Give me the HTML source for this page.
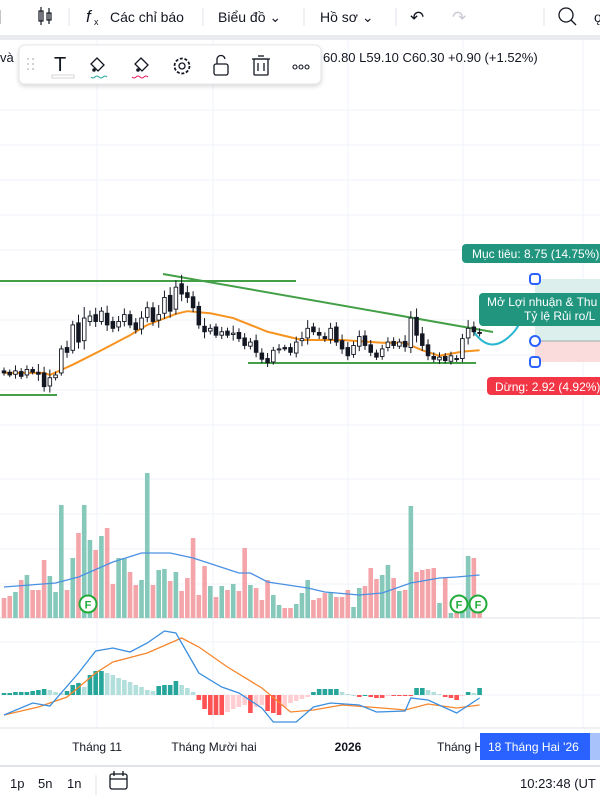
<!DOCTYPE html>
<html><head><meta charset="utf-8"><style>
html,body{margin:0;padding:0;background:#fff;width:600px;height:800px;overflow:hidden;font-family:"Liberation Sans","Noto Sans CJK SC",sans-serif}
svg{display:block}
text{font-family:"Liberation Sans","Noto Sans CJK SC",sans-serif}
</style></head><body>
<svg id="c" width="600" height="800" viewBox="0 0 600 800">
<!-- grid -->
<g id="grid" stroke="#f0f3fa" stroke-width="1">
<line x1="97" y1="40" x2="97" y2="728"/><line x1="213" y1="40" x2="213" y2="728"/><line x1="348" y1="40" x2="348" y2="728"/><line x1="463" y1="40" x2="463" y2="728"/><line x1="583" y1="40" x2="583" y2="728"/>
<line x1="0" y1="110" x2="600" y2="110"/><line x1="0" y1="145" x2="600" y2="145"/><line x1="0" y1="180" x2="600" y2="180"/><line x1="0" y1="215" x2="600" y2="215"/><line x1="0" y1="250" x2="600" y2="250"/><line x1="0" y1="285" x2="600" y2="285"/><line x1="0" y1="320" x2="600" y2="320"/><line x1="0" y1="355" x2="600" y2="355"/><line x1="0" y1="390" x2="600" y2="390"/><line x1="0" y1="425" x2="600" y2="425"/><line x1="0" y1="479" x2="600" y2="479"/><line x1="0" y1="514" x2="600" y2="514"/><line x1="0" y1="549" x2="600" y2="549"/><line x1="0" y1="584" x2="600" y2="584"/><line x1="0" y1="642" x2="600" y2="642"/><line x1="0" y1="695" x2="600" y2="695"/>
</g>
<line x1="0" y1="618" x2="600" y2="618" stroke="#e0e3eb"/>
<line x1="0" y1="728" x2="600" y2="728" stroke="#e0e3eb"/>
<!-- risk reward -->
<g>
<rect x="535" y="279" width="65" height="62" fill="#dcefec"/>
<rect x="535" y="341" width="65" height="21" fill="#fadcdc"/>
<line x1="535" y1="341" x2="600" y2="341" stroke="#9aa" stroke-width="1"/>
<path d="M474,332 Q488,352 505,340 Q516,332 520,322" fill="none" stroke="#29b6d0" stroke-width="2"/>
<rect x="462" y="244" width="145" height="19" rx="4" fill="#22957f"/>
<text x="472" y="258" font-size="12" fill="#fff">Mục tiêu: 8.75 (14.75%)</text>
<rect x="479" y="293" width="130" height="33" rx="4" fill="#22957f"/>
<text x="487" y="306" font-size="12" fill="#fff">Mở Lợi nhuận &amp; Thu</text>
<text x="524" y="320" font-size="12" fill="#fff">Tỷ lệ Rủi ro/L</text>
<rect x="487" y="377" width="120" height="18" rx="4" fill="#f23645"/>
<text x="495" y="391" font-size="12" fill="#fff">Dừng: 2.92 (4.92%)</text>
<rect x="530" y="274" width="10" height="10" rx="3" fill="#fff" stroke="#2962ff" stroke-width="2"/>
<circle cx="535" cy="341" r="5" fill="#fff" stroke="#2962ff" stroke-width="2"/>
<rect x="530" y="357" width="10" height="10" rx="3" fill="#fff" stroke="#2962ff" stroke-width="2"/>
</g>
<!-- drawings -->
<g stroke="#43a047" stroke-width="2">
<line x1="0" y1="281" x2="296" y2="281"/>
<line x1="163" y1="274" x2="493" y2="332"/>
<line x1="248" y1="363" x2="476" y2="363"/>
<line x1="0" y1="395" x2="57" y2="395"/>
</g>
<g id="vol"></g>
<g id="candles"></g>
<g id="macd"></g>
<!-- F markers -->
<g>
<circle cx="88" cy="604" r="8.5" fill="#fff" stroke="#22ab3b" stroke-width="2"/><text x="88" y="608.5" font-size="11" fill="#22ab3b" text-anchor="middle" font-weight="bold">F</text>
<circle cx="459" cy="604" r="8.5" fill="#fff" stroke="#22ab3b" stroke-width="2"/><text x="459" y="608.5" font-size="11" fill="#22ab3b" text-anchor="middle" font-weight="bold">F</text>
<circle cx="478" cy="604" r="8.5" fill="#fff" stroke="#22ab3b" stroke-width="2"/><text x="478" y="608.5" font-size="11" fill="#22ab3b" text-anchor="middle" font-weight="bold">F</text>
</g>
<!-- time axis -->
<g font-size="12" fill="#131722">
<text x="97" y="751" text-anchor="middle">Tháng 11</text>
<text x="214" y="751" text-anchor="middle">Tháng Mười hai</text>
<text x="348" y="751" text-anchor="middle" font-weight="bold">2026</text>
<text x="437" y="751">Tháng H</text>
<rect x="590" y="733" width="10" height="27" fill="#a8c2fb"/>
<rect x="480" y="733" width="110" height="27" fill="#2962ff"/>
<text x="488" y="751" fill="#fff">18 Tháng Hai '26</text>
</g>
<line x1="0" y1="766" x2="600" y2="766" stroke="#e0e3eb" stroke-width="2"/>
<!-- bottom bar -->
<g font-size="13" fill="#131722">
<text x="10" y="788">1p</text>
<text x="38" y="788">5n</text>
<text x="67" y="788">1n</text>
<line x1="96" y1="775" x2="96" y2="795" stroke="#e0e3eb"/>
<g stroke="#131722" fill="none" stroke-width="1.3"><rect x="110" y="774" width="17" height="15" rx="2"/><line x1="110" y1="779" x2="127" y2="779"/><line x1="114" y1="771" x2="114" y2="776"/><line x1="123" y1="771" x2="123" y2="776"/></g>
<text x="520" y="788">10:23:48 (UT</text>
</g>
<!-- legend -->
<text x="0" y="62" font-size="13" fill="#131722">và</text>
<text x="323" y="62" font-size="13" fill="#131722">60.80  L59.10  C60.30  +0.90 (+1.52%)</text>
<!-- top toolbar -->
<rect x="0" y="0" width="600" height="35" fill="#fff"/>
<rect x="0" y="35" width="600" height="5" fill="#e9ebf0"/>
<g font-size="14" fill="#131722">
<line x1="0" y1="10" x2="0" y2="24" stroke="#888"/>
<g stroke="#131722" fill="none" stroke-width="1.2"><rect x="39" y="11" width="4" height="10"/><line x1="41" y1="7" x2="41" y2="25"/><rect x="47" y="13" width="4" height="7"/><line x1="49" y1="8" x2="49" y2="24"/></g>
<line x1="69" y1="8" x2="69" y2="26" stroke="#e0e3eb"/>
<text x="86" y="22" font-style="italic" font-family="Liberation Serif" font-size="17">f</text><text x="94" y="25" font-size="9">x</text>
<text x="110" y="22">Các chỉ báo</text>
<line x1="203" y1="8" x2="203" y2="26" stroke="#e0e3eb"/>
<text x="218" y="22">Biểu đồ ⌄</text>
<line x1="304" y1="8" x2="304" y2="26" stroke="#e0e3eb"/>
<text x="320" y="22">Hồ sơ ⌄</text>
<line x1="396" y1="8" x2="396" y2="26" stroke="#e0e3eb"/>
<text x="410" y="23" font-size="17">↶</text>
<text x="452" y="23" font-size="17" fill="#c8cbd3">↷</text>
<line x1="544" y1="8" x2="544" y2="26" stroke="#e0e3eb"/>
<g stroke="#131722" fill="none" stroke-width="1.3"><circle cx="566" cy="15" r="7"/><line x1="571" y1="20" x2="576" y2="25"/></g>
<text x="594" y="22" font-size="14">ǫ</text>
</g>
<!-- floating drawing toolbar -->
<g>
<rect x="19" y="45" width="302" height="39" rx="6" fill="#fff" stroke="#e4e6eb" filter="url(#sh)"/>
<g fill="#c0c3cc"><circle cx="28" cy="59" r="1"/><circle cx="33" cy="59" r="1"/><circle cx="28" cy="64" r="1"/><circle cx="33" cy="64" r="1"/><circle cx="28" cy="69" r="1"/><circle cx="33" cy="69" r="1"/></g>
<text x="54" y="71" font-family="Liberation Serif" font-size="20" fill="#131722">T</text>
<rect x="52" y="75" width="22" height="3" fill="#fff" stroke="#bbb" stroke-width="0.6"/>
<g><path d="M97,58 l7,7 -6,6 -7,-7z" fill="none" stroke="#131722" stroke-width="1.3"/><circle cx="94" cy="70" r="1.8" fill="#131722"/><path d="M91,77 q2,2 4,0 t4,0 t4,0 t4,0" fill="none" stroke="#26a69a" stroke-width="1"/></g>
<g><path d="M141,58 l7,7 -6,6 -7,-7z" fill="none" stroke="#131722" stroke-width="1.3"/><circle cx="138" cy="70" r="1.8" fill="#131722"/><path d="M132,77 q2,2 4,0 t4,0 t4,0 t4,0" fill="none" stroke="#e91e63" stroke-width="1"/></g>
<g><circle cx="182" cy="66" r="7.5" fill="none" stroke="#131722" stroke-width="1.8" stroke-dasharray="3 1.7"/><circle cx="182" cy="66" r="3" fill="none" stroke="#131722" stroke-width="1.3"/></g>
<g fill="none" stroke="#131722" stroke-width="1.3"><rect x="214" y="64" width="14" height="11" rx="2"/><path d="M217,64 v-4 a4,4 0 0 1 8,-1"/></g>
<g fill="none" stroke="#131722" stroke-width="1.3"><line x1="252" y1="59" x2="270" y2="59"/><rect x="254" y="59" width="14" height="16" rx="1"/><line x1="258" y1="63" x2="258" y2="71"/><line x1="264" y1="63" x2="264" y2="71"/><line x1="258" y1="56" x2="264" y2="56"/></g>
<g fill="none" stroke="#131722" stroke-width="1.1"><circle cx="295" cy="67" r="2"/><circle cx="301" cy="67" r="2"/><circle cx="307" cy="67" r="2"/></g>
</g>
<defs><filter id="sh" x="-10%" y="-30%" width="120%" height="170%"><feDropShadow dx="0" dy="2" stdDeviation="2" flood-opacity="0.15"/></filter></defs>
</svg>
<script>
const opens=[54.8,54.6,54.3,54.7,54.2,55.0,54.6,54.5,52.6,53.8,54.5,58.2,57.8,61.8,59.2,62.0,63.0,62.0,63.2,62.0,61.2,62.0,63.0,61.8,60.9,62.6,64.0,62.2,63.2,65.8,63.8,67.5,66.2,65.6,64.2,61.3,60.6,61.2,60.0,60.6,60.1,60.4,59.6,58.4,59.2,57.4,56.6,56.1,57.9,58.2,58.2,57.4,59.2,59.6,61.2,60.4,59.8,59.4,61.2,59.2,58.2,57.2,58.4,59.9,58.6,57.4,56.9,58.2,59.1,58.4,59.1,58.2,62.6,60.2,58.6,56.9,56.4,56.9,56.2,56.6,56.6,59.6,61.2,60.4];
const closes=[54.5,54.2,54.8,54.0,55.0,54.6,54.3,52.5,53.8,54.2,58.0,57.5,61.5,59.0,62.5,62.8,62.0,63.5,61.5,61.0,62.0,63.0,61.5,60.8,62.5,64.0,62.0,63.0,65.5,63.5,67.0,66.0,65.5,64.0,61.5,60.5,61.0,60.0,60.5,60.0,60.3,59.5,58.5,59.0,57.5,56.5,56.0,57.8,58.0,58.0,57.5,59.0,59.5,61.0,60.5,60.0,59.5,61.0,59.0,58.0,57.0,58.5,59.8,58.5,57.5,56.8,58.0,59.0,58.5,59.0,58.3,62.5,60.0,58.5,57.0,56.5,56.8,56.3,57.0,56.5,59.5,61.0,60.5,60.3];
const wicks=[0.5,0.4,0.8,0.5,0.6,0.4,1.2,0.9,1.2,0.5,0.5,1.0,0.6,1.2,1.6,0.8,1.0,0.6,1.1,0.7,0.8,0.9,0.6,0.7,1.0,0.9,0.8,1.4,1.0,1.2,1.0,1.3,1.0,0.8,0.7,1.2,0.6,0.5,0.7,0.5,1.1,0.6,0.7,0.6,0.9,0.7,0.8,0.5,0.7,0.4,0.6,0.8,1.0,1.2,0.6,0.7,0.6,0.8,0.7,0.9,0.8,0.6,0.9,0.8,0.7,0.5,0.6,0.7,0.6,0.5,0.9,1.0,1.3,1.0,0.8,0.6,0.7,0.5,0.6,0.5,0.7,1.2,0.8,0.6];
const maIdx=[0,7,8,12,17,22,25,30,32,36,40,46,52,59,66,70,73,76,80,83];
const maVals=[54.5,54.5,54.2,55.7,57.8,60.0,61.5,63.1,63.5,63.2,62.5,60.5,59.3,59.3,58.9,58.9,57.8,57.0,57.6,57.8];
const volumes=[20,22,26,38,43,28,28,58,42,26,113,28,60,85,113,78,68,82,90,34,60,60,46,33,38,145,33,48,49,37,46,27,40,80,23,52,32,21,32,28,34,27,70,33,30,18,38,23,13,10,10,14,25,38,18,20,25,25,21,21,28,11,30,32,50,39,43,53,40,27,28,112,46,48,49,50,15,40,5,8,10,62,60,6];
const volMaIdx=[0,9,13,19,24,29,33,41,43,46,53,56,62,66,71,76,79,83];
const volMaVals=[31,35,41,56,65,65,60,45,45,36,30,26,23,25,35,40,41,43];
const hist=[2,2,3,3,3,4,5,6,5,3,2,4,10,12,8,20,24,24,22,20,17,15,13,10,8,5,4,9,10,10,14,10,7,3,-5,-14,-20,-20,-20,-17,-14,-12,-10,-18,-12,-10,-16,-18,-20,-12,-8,-6,-4,-2,3,6,6,6,6,3,1,0,-2,0,-2,-3,-3,-1,-1,-1,-1,-1,7,7,5,3,1,-2,-3,-5,-1,3,2,7];
const macdIdx=[0,5,8,13,16,19,22,25,28,30,32,34,38,41,45,47,51,54,57,62,65,70,71,74,79,83];
const macdVals=[-20,-8,-11,22,44,47,43,52,64,62,42,22,8,2,-13,-27,-27,-12,-8,-10,-17,-16,-3,-5,-18,-3];
const sigIdx=[0,6,11,16,19,25,31,34,39,45,50,54,59,66,70,74,79,83];
const sigVals=[-20,-12,-2,22,33,42,57,48,28,7,-17,-15,-10,-13,-15,-9,-13,-10];

const NS='http://www.w3.org/2000/svg';
const xOf=i=>4+i*5.73;
const yP=p=>340-(p-59.3)*6.86;
const yV=v=>618-v;
const yM=v=>695-v;
function mk(tag,attrs,parent){const e=document.createElementNS(NS,tag);for(const k in attrs)e.setAttribute(k,attrs[k]);parent.appendChild(e);return e;}
const gC=document.getElementById('candles'),gV=document.getElementById('vol'),gM=document.getElementById('macd');
const n=Math.min(opens.length,closes.length);
for(let i=0;i<volumes.length;i++){
  const up=i<n?closes[i]>=opens[i]:true;
  const r=mk('rect',{x:xOf(i)-2.3,y:yV(volumes[i]),width:4.6,height:volumes[i],fill:up?'#86c9bb':'#f4a5a9'},gV);
  
  
}
let vp=volMaIdx.map((k,j)=>xOf(k)+','+yV(volMaVals[j])).join(' ');
const vl=mk('polyline',{points:vp,fill:'none',stroke:'#4a90e2','stroke-width':1.3},gV);


let mp=maIdx.map((k,j)=>xOf(k)+','+yP(maVals[j])).join(' ');
const ml=mk('polyline',{points:mp,fill:'none',stroke:'#f7931e','stroke-width':2,'stroke-linejoin':'round'},gC);


for(let i=0;i<n;i++){
  const o=opens[i],c=closes[i],x=xOf(i),up=c>=o;
  const hi=Math.max(o,c)+wicks[i],lo=Math.min(o,c)-wicks[i]*0.8;
  const w=mk('line',{x1:x,x2:x,y1:yP(hi),y2:yP(lo),stroke:'#131722','stroke-width':1},gC);
  
  
  const top=yP(Math.max(o,c)),h=Math.max(1,Math.abs(yP(o)-yP(c)));
  const b=mk('rect',{x:x-1.8,y:top,width:3.6,height:h,fill:up?'#fff':'#131722',stroke:'#131722','stroke-width':0.9},gC);
  
  
}
for(let i=0;i<hist.length;i++){
  const v=hist[i],p=i>0?hist[i-1]:0;
  let col;
  if(v>=0)col=v>=p?'#26a69a':'#b2dfdb';else col=v<=p?'#ff5252':'#ffcdd2';
  const r=mk('rect',{x:xOf(i)-2.3,y:v>=0?yM(v):yM(0),width:4.6,height:Math.max(1,Math.abs(v)),fill:col},gM);
  
  
}
const sl=mk('polyline',{points:sigIdx.map((k,j)=>xOf(k)+','+yM(sigVals[j])).join(' '),fill:'none',stroke:'#f7862e','stroke-width':1.3},gM);


const mcl=mk('polyline',{points:macdIdx.map((k,j)=>xOf(k)+','+yM(macdVals[j])).join(' '),fill:'none',stroke:'#3b8fe0','stroke-width':1.3},gM);


</script>
</body></html>
